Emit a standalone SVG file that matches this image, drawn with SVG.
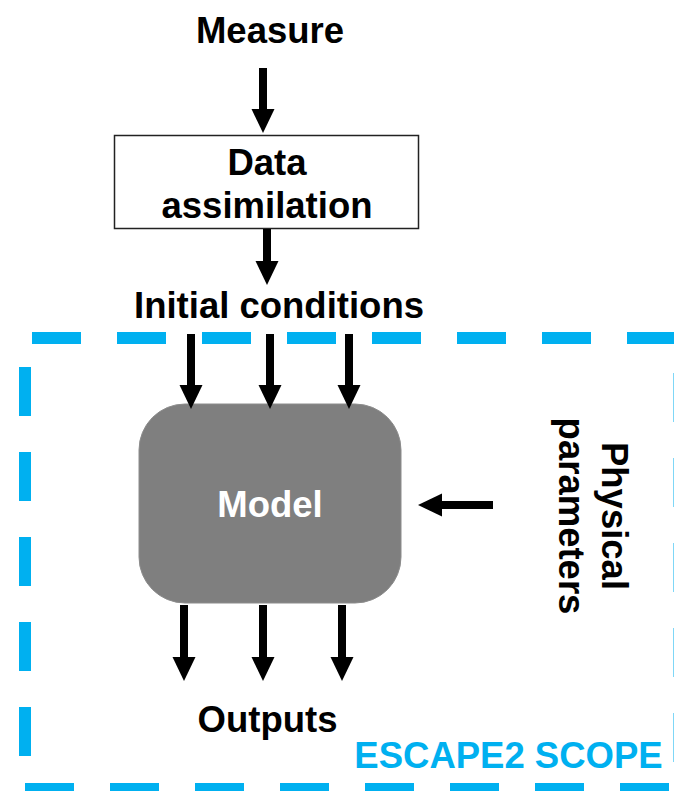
<svg xmlns="http://www.w3.org/2000/svg" width="674" height="791" viewBox="0 0 674 791">
<style>
.t{font-family:"Liberation Sans",Arial,sans-serif;font-weight:bold;font-size:36.5px;text-anchor:middle;fill:#000}
.w{fill:#fff}
.b{fill:#00b0f0}
.dash{stroke:#00b0f0;stroke-width:12;fill:none;stroke-dasharray:49 36}
.arr{stroke:#000;stroke-width:8;fill:none;marker-end:url(#ah)}
</style>
<defs>
<marker id="ah" viewBox="0 0 24 24" markerWidth="24" markerHeight="24" markerUnits="userSpaceOnUse" refX="2" refY="12" orient="auto">
<path d="M0,0.5 L24,12 L0,23.5 z" fill="#000"/>
</marker>
</defs>
<rect width="674" height="791" fill="#fff"/>
<g id="scope">
<line class="dash" x1="32" y1="338" x2="680" y2="338"/>
<line class="dash" x1="25" y1="367" x2="25" y2="791"/>
<line class="dash" x1="25" y1="789" x2="680" y2="789"/>
<line class="dash" x1="679.5" y1="373" x2="679.5" y2="791"/>
<text class="t b" x="508.5" y="768">ESCAPE2 SCOPE</text>
</g>
<g id="measure">
<text class="t" x="270" y="43">Measure</text>
</g>
<g id="data-assimilation">
<rect x="114.5" y="135.5" width="304" height="93" fill="#fff" stroke="#222" stroke-width="1.5"/>
<text class="t" x="267" y="175">Data</text>
<text class="t" x="267" y="218">assimilation</text>
</g>
<g id="initial-conditions">
<text class="t" x="279" y="318">Initial conditions</text>
</g>
<g id="model">
<rect x="139" y="404" width="262" height="199" rx="46" ry="46" fill="#7f7f7f" stroke="#8c8c8c" stroke-width="1"/>
<text class="t w" x="270" y="517">Model</text>
</g>
<g id="physical-parameters">
<text class="t" transform="translate(602,516) rotate(90)" x="0" y="0">Physical</text>
<text class="t" transform="translate(602,516) rotate(90)" x="0" y="43">parameters</text>
</g>
<g id="outputs">
<text class="t" x="267.5" y="732">Outputs</text>
</g>
<g id="connectors">
<line class="arr" x1="263" y1="68" x2="263" y2="111"/>
<line class="arr" x1="267" y1="229" x2="267" y2="263"/>
<line class="arr" x1="191" y1="334" x2="191" y2="387"/>
<line class="arr" x1="270" y1="334" x2="270" y2="387"/>
<line class="arr" x1="349" y1="334" x2="349" y2="387"/>
<line class="arr" x1="184" y1="605" x2="184" y2="659"/>
<line class="arr" x1="263" y1="605" x2="263" y2="659"/>
<line class="arr" x1="342" y1="605" x2="342" y2="659"/>
<line class="arr" x1="493" y1="505" x2="440" y2="505"/>
</g>
</svg>
